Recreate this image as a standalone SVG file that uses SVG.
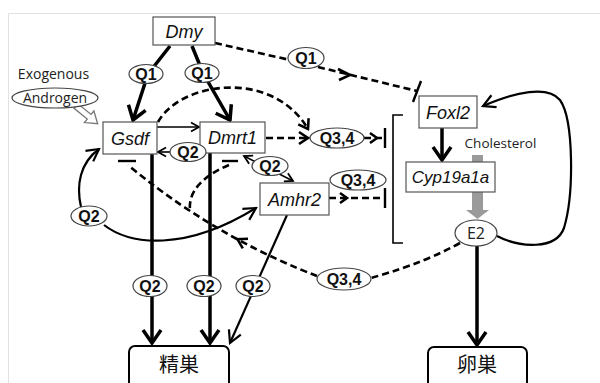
<svg xmlns="http://www.w3.org/2000/svg" width="600" height="383" viewBox="0 0 600 383">
<style>
.box{fill:#fff;stroke:#555;stroke-width:1.2}
.ell{fill:#fff;stroke:#444;stroke-width:1.2}
.nl{font-family:"Liberation Sans",Arial,sans-serif;font-style:italic;font-size:18px;text-anchor:middle;fill:#111}
.ql{font-family:"Liberation Sans",Arial,sans-serif;font-weight:bold;font-size:16px;text-anchor:middle;fill:#111}
.sl{font-family:"Open Sans","Liberation Sans",sans-serif;font-size:14px;text-anchor:middle;fill:#222}
.jp{font-family:"Liberation Sans","Noto Sans CJK JP",sans-serif;font-size:20px;text-anchor:middle;fill:#111}
.th{fill:none;stroke:#000;stroke-width:3.5}
.tn{fill:none;stroke:#000;stroke-width:1.6}
.md{fill:none;stroke:#000;stroke-width:2.2}
.ds{fill:none;stroke:#000;stroke-width:2.6;stroke-dasharray:7 4}
.cv{fill:none;stroke:#000;stroke-width:2.6}
.bar{fill:none;stroke:#000;stroke-width:2.4}
.rb{fill:#fff;stroke:#000;stroke-width:2}
</style>
<defs>
<marker id="ah" viewBox="-16 -12 18 24" markerWidth="18" markerHeight="24" refX="0" refY="0" orient="auto" markerUnits="userSpaceOnUse"><path d="M-13 -9 L0 0 L-13 9" fill="none" stroke="#000" stroke-width="3.5"/></marker>
<marker id="ahm" viewBox="-15 -10 17 20" markerWidth="17" markerHeight="20" refX="0" refY="0" orient="auto" markerUnits="userSpaceOnUse"><path d="M-12 -6.5 L0 0 L-12 6.5" fill="none" stroke="#000" stroke-width="2.2"/></marker>
<marker id="ahs" viewBox="-10 -6 12 12" markerWidth="12" markerHeight="12" refX="0" refY="0" orient="auto-start-reverse" markerUnits="userSpaceOnUse"><path d="M-8 -4.5 L0 0 L-8 4.5" fill="none" stroke="#000" stroke-width="1.8"/></marker>
<marker id="ahd" viewBox="-12 -9 14 18" markerWidth="14" markerHeight="18" refX="0" refY="0" orient="auto" markerUnits="userSpaceOnUse"><path d="M-9 -6 L0 0 L-9 6" fill="none" stroke="#000" stroke-width="2.6"/></marker>
</defs>
<rect width="600" height="383" fill="#fff"/>
<path d="M8.5 383 V13.5 H600" fill="none" stroke="#e2e2e2" stroke-width="1"/>

<g id="connectors">
<path class="th" d="M170 46 L148 74 L133 120" marker-end="url(#ah)"/>
<path class="th" d="M192 46 L203 73 L230 120" marker-end="url(#ah)"/>
<path class="ds" d="M215 43 L290 60"/>
<path class="ds" d="M318 67 L417 91"/>
<polyline class="cv" points="338,69 350,75 339,80"/>
<line class="bar" x1="413" y1="102" x2="421" y2="81"/>
<polygon transform="translate(76 106) rotate(39.3)" points="0,-3 17,-3 17,-7.5 28,0 17,7.5 17,3 0,3" fill="#fff" stroke="#777" stroke-width="1.3"/>
<path class="tn" d="M157 127 L199 127" marker-end="url(#ahs)"/>
<path class="tn" d="M171 152 L158 152" marker-end="url(#ahs)"/>
<path class="ds" d="M158 122 C180 82 272 68 308 129" marker-end="url(#ahd)"/>
<path class="ds" d="M266 138 L308 138" marker-end="url(#ahd)"/>
<path class="ds" d="M364 138 L385 138"/>
<polyline class="cv" points="370,133 377,138 370,143"/>
<line class="bar" x1="385" y1="128" x2="385" y2="148"/>
<path class="ds" d="M329 198 L385 198"/>
<polyline class="cv" points="340,193 347,198 340,203"/>
<line class="bar" x1="385" y1="188" x2="385" y2="208"/>
<path d="M403 115 H393 V243 H403" fill="none" stroke="#000" stroke-width="1.6"/>
<path class="tn" d="M244 156 L293 181" marker-start="url(#ahs)" marker-end="url(#ahs)"/>
<path class="md" d="M81 207 C76 185 80 163 99 149" marker-end="url(#ahm)"/>
<path class="md" d="M104 225 C130 245 185 252 256 208" marker-end="url(#ahm)"/>
<path class="th" d="M152 154 L152 343" marker-end="url(#ah)"/>
<path class="th" d="M210 153 L210 343" marker-end="url(#ah)"/>
<path class="md" d="M287 215 L230 343" marker-end="url(#ahm)"/>
<path class="th" d="M477 246 L477 345" marker-end="url(#ah)"/>
<path class="th" d="M442 128 L442 160" marker-end="url(#ah)"/>
<path class="md" d="M497 236 C520 248 556 250 564 228 C574 195 574 120 560 100 C548 85 515 92 483 106" marker-end="url(#ahm)"/>
<rect x="472" y="155" width="11" height="56" fill="#9a9a9a"/>
<polygon points="466,210 489,210 477.5,219" fill="#9a9a9a"/>
<path class="ds" d="M460 243 C425 262 395 271 371 278"/>
<path class="ds" d="M317 276 C270 258 200 225 128 165"/>
<polyline class="cv" points="248,238.8 237.5,239.3 242.8,248.4"/>
<line class="bar" x1="118" y1="161" x2="136" y2="161"/>
<path class="ds" d="M229 165 C205 175 188 190 190 210"/>
<line class="bar" x1="222" y1="161" x2="238" y2="161"/>
</g>

<g id="node-exogenous"><text class="sl" x="53.5" y="79">Exogenous</text></g>
<g id="node-androgen"><ellipse class="ell" cx="55" cy="98" rx="43" ry="10"/><text class="sl" x="55" y="103">Androgen</text></g>
<g id="node-dmy"><rect class="box" x="153" y="17" width="62" height="28"/><text class="nl" x="184" y="37.5">Dmy</text></g>
<g id="node-gsdf"><rect class="box" x="103" y="122" width="54" height="32"/><text class="nl" x="130" y="144.5">Gsdf</text></g>
<g id="node-dmrt1"><rect class="box" x="200" y="122" width="65" height="31"/><text class="nl" x="232.5" y="144">Dmrt1</text></g>
<g id="node-amhr2"><rect class="box" x="260" y="183" width="69" height="32"/><text class="nl" x="294.5" y="205.5">Amhr2</text></g>
<g id="node-foxl2"><rect class="box" x="419" y="96" width="58" height="32"/><text class="nl" x="448" y="118.5">Foxl2</text></g>
<g id="node-cyp19a1a"><rect class="box" x="406" y="162" width="89" height="30"/><text class="nl" x="450.5" y="183" style="font-size:17px">Cyp19a1a</text></g>
<g id="node-cholesterol"><text class="sl" x="500.5" y="148" style="font-size:13.5px">Cholesterol</text></g>
<g id="node-e2"><ellipse class="ell" cx="476" cy="233" rx="21" ry="13"/><text class="sl" x="476" y="239" style="font-size:16px">E2</text></g>

<g id="node-q1-left"><ellipse class="ell" cx="146" cy="74" rx="17" ry="9.5"/><text class="ql" x="146" y="79.5">Q1</text></g>
<g id="node-q1-right"><ellipse class="ell" cx="202" cy="73" rx="17" ry="9.5"/><text class="ql" x="202" y="78.5">Q1</text></g>
<g id="node-q1-top"><ellipse class="ell" cx="306" cy="58" rx="18" ry="10.5"/><text class="ql" x="306" y="63.5">Q1</text></g>
<g id="node-q2-mid"><ellipse class="ell" cx="188" cy="152" rx="18" ry="9.5"/><text class="ql" x="188" y="157.5">Q2</text></g>
<g id="node-q2-amhr"><ellipse class="ell" cx="270" cy="166" rx="18" ry="9.5"/><text class="ql" x="270" y="171.5">Q2</text></g>
<g id="node-q34-upper"><ellipse class="ell" cx="337" cy="138" rx="27" ry="10"/><text class="ql" x="337" y="143.5">Q3,4</text></g>
<g id="node-q34-right"><ellipse class="ell" cx="358" cy="180" rx="28" ry="10"/><text class="ql" x="358" y="185.5">Q3,4</text></g>
<g id="node-q2-left"><ellipse class="ell" cx="89" cy="216" rx="18" ry="10"/><text class="ql" x="89" y="221.5">Q2</text></g>
<g id="node-q2-b1"><ellipse class="ell" cx="150" cy="286" rx="17" ry="10.5"/><text class="ql" x="150" y="291.5">Q2</text></g>
<g id="node-q2-b2"><ellipse class="ell" cx="204" cy="286" rx="17" ry="10.5"/><text class="ql" x="204" y="291.5">Q2</text></g>
<g id="node-q2-b3"><ellipse class="ell" cx="253" cy="286" rx="17" ry="10.5"/><text class="ql" x="253" y="291.5">Q2</text></g>
<g id="node-q34-bottom"><ellipse class="ell" cx="344" cy="279" rx="27" ry="11"/><text class="ql" x="344" y="284.5">Q3,4</text></g>

<g id="node-testis"><rect class="rb" x="129" y="346" width="100" height="44" rx="6"/><text class="jp" x="179" y="372">精巣</text></g>
<g id="node-ovary"><rect class="rb" x="428" y="347" width="99" height="44" rx="6"/><text class="jp" x="477" y="372">卵巣</text></g>
</svg>
